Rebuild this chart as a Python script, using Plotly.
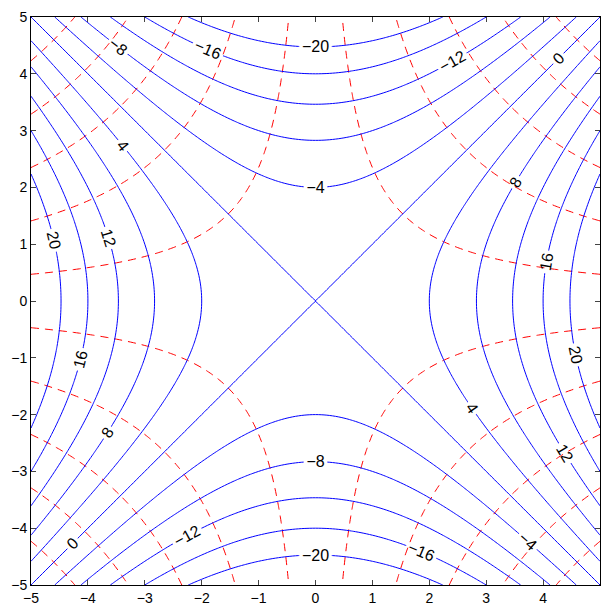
import numpy as np
import plotly.graph_objects as go

# grid coordinates
x_values = np.linspace(-5, 5, 201)
y_values = np.linspace(-5, 5, 201)

# contour levels
blue_levels = dict(start=-20, end=20, size=4)        # f = x^2 - y^2
red_levels = dict(start=-21.15, end=21.15, size=4.7)  # g = x*y

tick_vals = [-5, -4, -3, -2, -1, 0, 1, 2, 3, 4, 5]

X, Y = np.meshgrid(x_values, y_values)
Z_blue = X**2 - Y**2
Z_red = X * Y

fig = go.Figure()
fig.add_trace(go.Contour(
    x=x_values, y=y_values, z=Z_red,
    contours=dict(coloring="lines", showlabels=False, **red_levels),
    colorscale=[[0, "red"], [1, "red"]], showscale=False,
    line=dict(width=1, dash="8px,6px"), hoverinfo="skip",
))
fig.add_trace(go.Contour(
    x=x_values, y=y_values, z=Z_blue,
    contours=dict(coloring="lines", showlabels=True,
                  labelfont=dict(size=16, color="black", family="Liberation Sans"),
                  **blue_levels),
    colorscale=[[0, "blue"], [1, "blue"]], showscale=False,
    line=dict(width=1), hoverinfo="skip",
))

axis_common = dict(
    range=[-5, 5], tickvals=tick_vals, ticks="inside", ticklen=5,
    showline=True, linecolor="black", linewidth=1, mirror="ticks",
    showgrid=False, zeroline=False,
    tickfont=dict(size=14, family="Liberation Sans", color="black"),
)
fig.update_xaxes(**axis_common)
fig.update_yaxes(**axis_common)
fig.update_layout(
    width=603, height=608,
    margin=dict(l=31, r=2, t=17, b=20),
    plot_bgcolor="white", paper_bgcolor="white",
    showlegend=False,
)
fig.write_html("out.html")
